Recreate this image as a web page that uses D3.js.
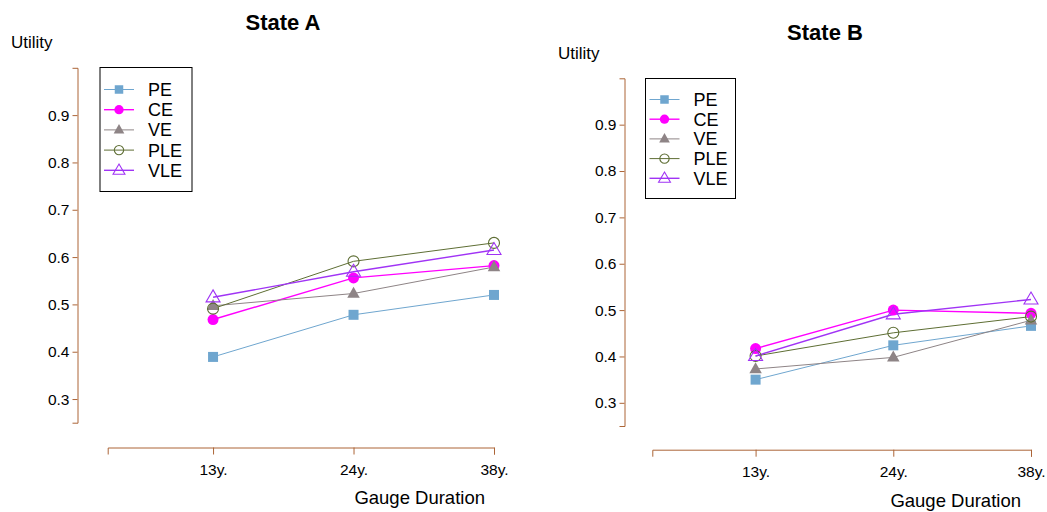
<!DOCTYPE html>
<html>
<head>
<meta charset="utf-8">
<script src="https://cdn.jsdelivr.net/npm/d3@7"></script>
<style>
  body { margin: 0; background: #fff; }
  svg { font-family: "Liberation Sans", Arial, sans-serif; }
</style>
</head>
<body>
<svg id="chart" width="1047" height="512"></svg>
<script>
// Data
var durations = ["13y.", "24y.", "38y."];
var seriesNames = ["PE", "CE", "VE", "PLE", "VLE"];
var yTicks = [0.3, 0.4, 0.5, 0.6, 0.7, 0.8, 0.9];

var stateA = {
  PE:  [0.389, 0.478, 0.520],
  CE:  [0.468, 0.556, 0.582],
  VE:  [0.497, 0.523, 0.579],
  PLE: [0.491, 0.591, 0.630],
  VLE: [0.515, 0.569, 0.615]
};
var stateB = {
  PE:  [0.350, 0.424, 0.466],
  CE:  [0.417, 0.500, 0.493],
  VE:  [0.373, 0.398, 0.478],
  PLE: [0.401, 0.451, 0.486],
  VLE: [0.401, 0.491, 0.523]
};

// Styling per series
var style = {
  PE:  {color: "#6fa6cf", width: 1,   shape: "square",   fill: true},
  CE:  {color: "#ff00ff", width: 1.4, shape: "circle",   fill: true},
  VE:  {color: "#8e8486", width: 1,   shape: "triangle", fill: true},
  PLE: {color: "#5e6e34", width: 1,   shape: "circle",   fill: false},
  VLE: {color: "#a033f5", width: 1.4, shape: "triangle", fill: false}
};
var axisColor = "#ac6537";

var svg = d3.select("#chart");

function marker(g, name, x, y, scale) {
  var s = style[name];
  var m;
  if (s.shape == "square") {
    var a = 10 * scale;
    m = g.append("rect").attr("x", x - a/2).attr("y", y - a/2).attr("width", a).attr("height", a);
  } else if (s.shape == "circle") {
    m = g.append("circle").attr("cx", x).attr("cy", y).attr("r", 5.5 * scale);
  } else {
    var h = (s.fill ? 11 : 12) * scale, w = (s.fill ? 12.5 : 14) * scale;
    m = g.append("path").attr("d", "M" + x + "," + (y - h*0.62) + "L" + (x + w/2) + "," + (y + h*0.38) +
      "L" + (x - w/2) + "," + (y + h*0.38) + "Z");
  }
  if (s.fill) m.attr("fill", s.color).attr("stroke", "none");
  else m.attr("fill", "none").attr("stroke", s.color).attr("stroke-width", 1.1);
}

function drawPanel(data, cfg) {
  var g = svg.append("g");

  var x = d3.scaleLinear().domain([0.25, 3]).range([cfg.x0, cfg.x1]);
  var y = d3.scaleLinear().domain([0.25, 1.0]).range([cfg.y0, cfg.y1]);

  // y axis
  var yAx = g.append("g")
    .attr("transform", "translate(" + cfg.yAxisX + ",0)")
    .call(d3.axisLeft(y).tickValues(yTicks).tickFormat(d3.format(".1f")).tickSize(5).tickSizeOuter(5).tickPadding(3));
  // x axis
  var xAx = g.append("g")
    .attr("transform", "translate(0," + cfg.xAxisY + ")")
    .call(d3.axisBottom(x).tickValues([1, 2, 3]).tickFormat(function (d) { return durations[d - 1]; })
      .tickSize(7).tickSizeOuter(7).tickPadding(9));

  [yAx, xAx].forEach(function (ax) {
    ax.select(".domain").attr("stroke", axisColor);
    ax.selectAll(".tick line").attr("stroke", axisColor);
    ax.selectAll(".tick text").attr("fill", "#000").style("font-size", "15.5px");
    ax.attr("font-family", null);
  });

  // titles
  g.append("text").attr("x", cfg.titleX).attr("y", cfg.titleY).attr("text-anchor", "middle")
    .style("font-size", "22px").style("font-weight", "bold").text(cfg.title);
  g.append("text").attr("x", cfg.utilX).attr("y", cfg.utilY).style("font-size", "17px").text("Utility");
  g.append("text").attr("x", cfg.gaugeX).attr("y", cfg.gaugeY).attr("text-anchor", "end")
    .style("font-size", "18.5px").text("Gauge Duration");

  // lines
  var line = d3.line().x(function (d, i) { return x(i + 1); }).y(function (d) { return y(d); });
  seriesNames.forEach(function (name) {
    g.append("path").datum(data[name]).attr("d", line)
      .attr("fill", "none").attr("stroke", style[name].color).attr("stroke-width", style[name].width);
  });
  seriesNames.forEach(function (name) {
    data[name].forEach(function (v, i) { marker(g, name, x(i + 1), y(v), 1); });
  });

  // legend
  var lg = g.append("g");
  lg.append("rect").attr("x", cfg.legX).attr("y", cfg.legY).attr("width", cfg.legW).attr("height", cfg.legH)
    .attr("fill", "#fff").attr("stroke", "#000").attr("stroke-width", 1);
  seriesNames.forEach(function (name, i) {
    var cy = cfg.legY + cfg.legFirst + i * cfg.legStep;
    lg.append("line").attr("x1", cfg.legX + 4).attr("x2", cfg.legX + 34).attr("y1", cy).attr("y2", cy)
      .attr("stroke", style[name].color).attr("stroke-width", style[name].width);
    marker(lg, name, cfg.legX + 19, cy, 0.85);
    lg.append("text").attr("x", cfg.legX + 48).attr("y", cy + 6.5).style("font-size", "18px").text(name);
  });
}

drawPanel(stateA, {
  title: "State A", titleX: 283, titleY: 30, utilX: 11, utilY: 48,
  gaugeX: 485, gaugeY: 504,
  x0: 107.7, x1: 494, y0: 422.7, y1: 67.8, yAxisX: 77.5, xAxisY: 447.5,
  legX: 100, legY: 67.5, legW: 92, legH: 124, legFirst: 22, legStep: 20.2
});
drawPanel(stateB, {
  title: "State B", titleX: 825, titleY: 40, utilX: 558, utilY: 59,
  gaugeX: 1021, gaugeY: 507,
  x0: 652.3, x1: 1031, y0: 426, y1: 78.3, yAxisX: 624.5, xAxisY: 449.7,
  legX: 645.5, legY: 78.5, legW: 90, legH: 120, legFirst: 21, legStep: 19.7
});
</script>
</body>
</html>
